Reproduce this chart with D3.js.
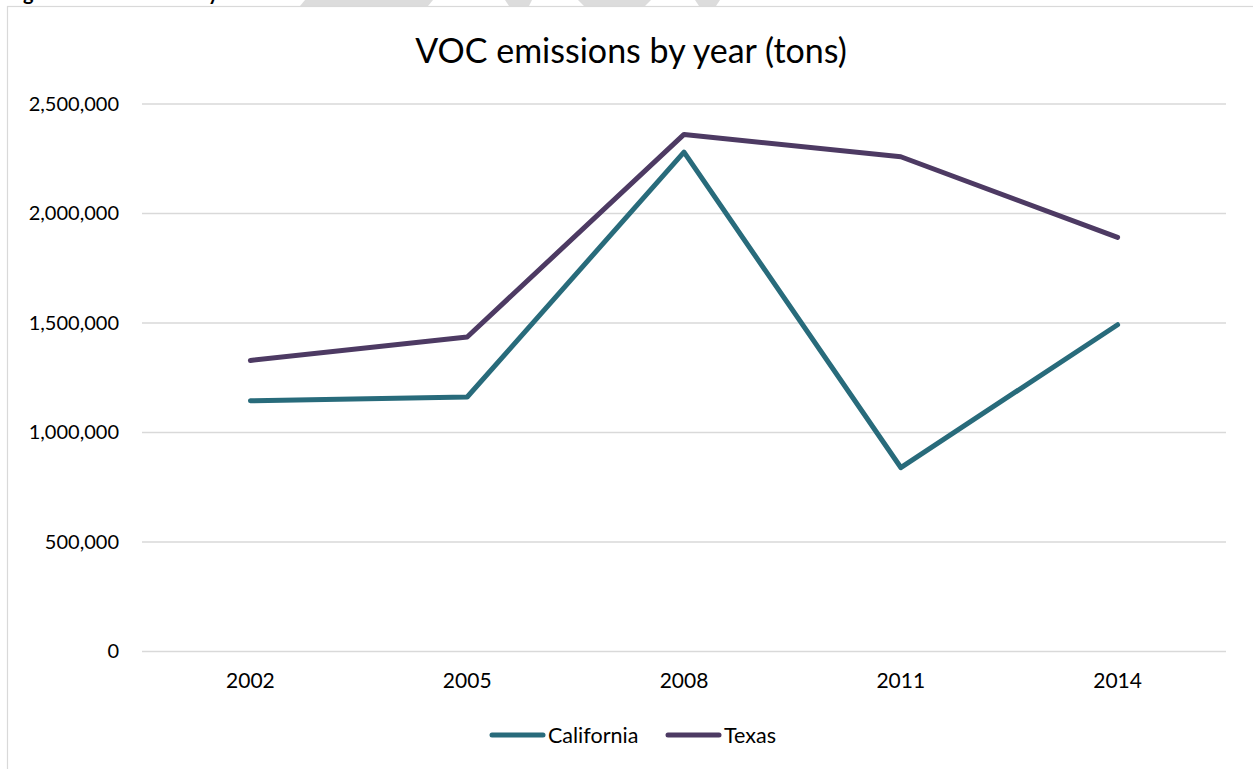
<!DOCTYPE html>
<html><head><meta charset="utf-8">
<script src="https://cdn.jsdelivr.net/npm/d3@7"></script>
<style>
html,body{margin:0;padding:0;background:#fff;}
svg{display:block;}
text{font-family:Lato,"Open Sans",sans-serif;fill:#000;}
</style></head>
<body>
<script>
const years = ["2002","2005","2008","2011","2014"];
const california = [1145000, 1162000, 2280000, 840000, 1492000];
const texas = [1329000, 1436000, 2361000, 2259000, 1891000];
const seriesNames = ["California","Texas"];
const seriesColors = ["#286b7b","#4d3a63"];
const yTicks = [0, 500000, 1000000, 1500000, 2000000, 2500000];
const title = "VOC emissions by year (tons)";

const W = 1253, H = 769;
const svg = d3.select("body").append("svg").attr("width", W).attr("height", H);

// top decorative strip (page background shapes)
const deco = [
  [[300,6],[305,0],[433,0],[428,6]],
  [[505,0],[532,0],[529,6],[509,6]],
  [[578,0],[651,0],[645,6],[584,6]],
  [[695,0],[720,0],[716,6],[699,6]]
];
svg.selectAll("polygon.deco").data(deco).join("polygon")
  .attr("points", d => d.map(p => p.join(",")).join(" "))
  .attr("fill", "#dcdcdc");

// cut-off page caption glyphs (only descenders visible)
svg.append("text").attr("x", 23).attr("y", 0).attr("font-family", "Liberation Sans, sans-serif")
  .attr("font-weight", "bold").attr("font-size", 20).text("g");
svg.append("text").attr("x", 208).attr("y", 0).attr("font-family", "Liberation Sans, sans-serif")
  .attr("font-weight", "bold").attr("font-size", 20).text("y");

// chart frame
svg.append("rect").attr("x", 7.5).attr("y", 6.5).attr("width", W + 10).attr("height", H + 10)
  .attr("fill", "#fff").attr("stroke", "#d9d9d9").attr("stroke-width", 1.2);

const x = d3.scaleBand().domain(years).range([142, 1226]);
const y = d3.scaleLinear().domain([0, 2500000]).range([651.5, 104]);

// gridlines
svg.append("g").selectAll("line").data(yTicks).join("line")
  .attr("x1", 142).attr("x2", 1226)
  .attr("y1", d => y(d)).attr("y2", d => y(d))
  .attr("stroke", "#d9d9d9").attr("stroke-width", 1.3);

// y axis labels
const fmt = d3.format(",");
const yAxis = d3.axisLeft(y).tickValues(yTicks).tickFormat(fmt).tickSize(0).tickPadding(0);
const gy = svg.append("g").attr("transform", "translate(119,0)").call(yAxis);
gy.select(".domain").remove();
gy.selectAll("text").attr("font-size", 20).attr("font-family", "Lato, sans-serif").attr("fill", "#000");

// x axis labels
const xAxis = d3.axisBottom(x).tickSize(0).tickPadding(0);
const gx = svg.append("g").attr("transform", "translate(0,673)").call(xAxis);
gx.select(".domain").remove();
gx.selectAll("text").attr("font-size", 21).attr("font-family", "Lato, sans-serif").attr("fill", "#000");

// title
svg.append("text").attr("x", 631).attr("y", 63).attr("text-anchor", "middle")
  .attr("font-size", 34).text(title);

// lines
const series = [california, texas];
const line = d3.line().x((d, i) => x(years[i]) + x.bandwidth() / 2).y(d => y(d));
svg.append("g").selectAll("path").data(series).join("path")
  .attr("d", d => line(d))
  .attr("fill", "none")
  .attr("stroke", (d, i) => seriesColors[i])
  .attr("stroke-width", 5)
  .attr("stroke-linecap", "round")
  .attr("stroke-linejoin", "round");

// legend
const legX = [490, 666];
const lg = svg.append("g");
seriesNames.forEach((n, i) => {
  lg.append("line").attr("x1", legX[i] + 2).attr("x2", legX[i] + 53)
    .attr("y1", 735).attr("y2", 735)
    .attr("stroke", seriesColors[i]).attr("stroke-width", 5).attr("stroke-linecap", "round");
  lg.append("text").attr("x", legX[i] + 58).attr("y", 742.5).attr("font-size", 21.5).text(n);
});
</script>
</body></html>
